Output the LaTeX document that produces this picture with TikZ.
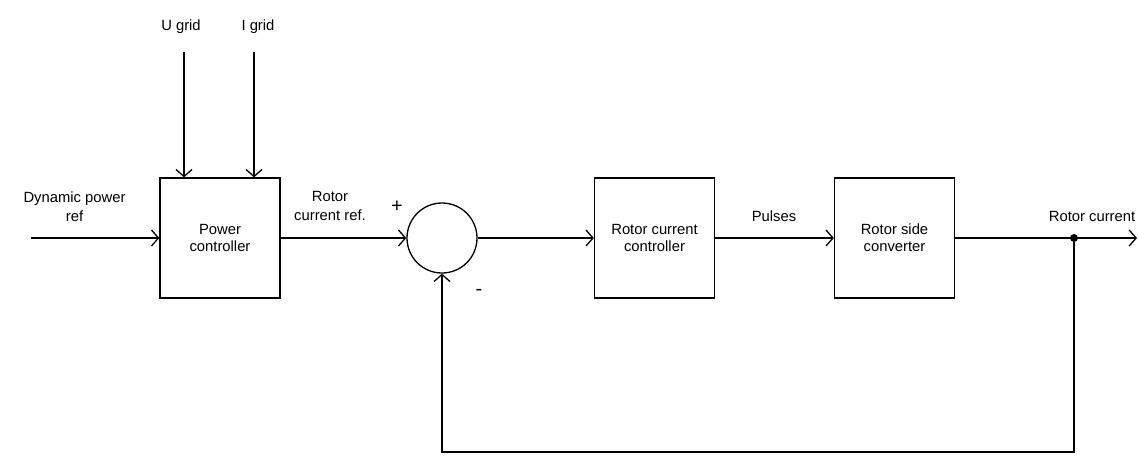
\documentclass[tikz,border=0pt]{standalone}
\usepackage{fontspec}
\setmainfont{Liberation Sans}
\usetikzlibrary{arrows.meta}
\begin{document}
\begin{tikzpicture}[x=1pt,y=-1pt,
  blk/.style={draw, line width=1.3pt, minimum width=120pt, minimum height=120pt, align=center, inner sep=0pt, font=\fontsize{14.8}{17}\selectfont},
  lbl/.style={align=center, inner sep=0pt, font=\fontsize{14.8}{19}\selectfont},
  sgn/.style={inner sep=0pt, font=\fontsize{20}{20}\selectfont},
  sig/.style={line width=1.3pt, -{Straight Barb[length=7pt,width=16pt]}}]
\useasboundingbox (0,0) rectangle (1139,459);
% blocks
\node[blk] (pc) at (220,238) {Power\\controller};
\node[blk] (rcc) at (654.5,238) {Rotor current\\controller};
\node[blk] (rsc) at (894.5,238) {Rotor side\\converter};
\node[draw, circle, line width=1.3pt, minimum size=70pt, inner sep=0pt] (sum) at (442,238) {};
% free ends
\coordinate (in) at (31,238);
\coordinate (ug) at (184,52);
\coordinate (ig) at (254,52);
\coordinate (j) at (1074,238);
\coordinate (out) at (1137,238);
\coordinate (fb) at (1074,452);
% labels
\node[lbl] (lug) at (181,27) {U grid};
\node[lbl] (lig) at (258,27) {I grid};
\node[lbl] (ldp) at (74.5,206.5) {Dynamic power\\ref};
\node[lbl] (lrc) at (330,206) {Rotor\\current ref.};
\node[sgn] (lplus) at (397,207) {+};
\node[sgn] (lminus) at (479,292) {-};
\node[lbl] (lpul) at (774,216) {Pulses};
\node[lbl] (lrot) at (1092,216) {Rotor current};
% connectors
\draw[sig] (in) -- (pc.west);
\draw[sig] (ug) -- (ug |- pc.north);
\draw[sig] (ig) -- (ig |- pc.north);
\draw[sig] (pc.east) -- (sum.west);
\draw[sig] (sum.east) -- (rcc.west);
\draw[sig] (rcc.east) -- (rsc.west);
\draw[sig] (rsc.east) -- (out);
\draw[sig] (j) -- (fb) -| (sum.south);
\fill (j) circle (4pt);
\end{tikzpicture}
\end{document}
